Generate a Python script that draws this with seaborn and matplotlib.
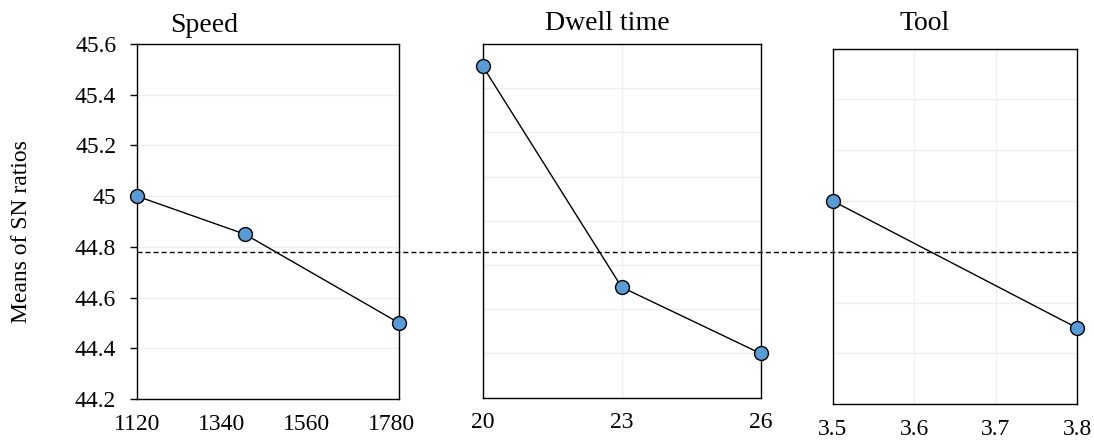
import numpy as np
import matplotlib
matplotlib.use("Agg")
import matplotlib.pyplot as plt
import matplotlib.transforms as mtransforms
from matplotlib.lines import Line2D
from matplotlib.ticker import FuncFormatter
import seaborn as sns

# main effects of SN ratios, one small array per factor
speed_levels = [1120, 1400, 1800]
speed_sn = [45.00, 44.85, 44.50]
speed_ticks = [1120, 1340, 1560, 1780]

dwell_levels = [20, 23, 26]
dwell_sn = [45.50, 44.50, 44.20]
dwell_ticks = [20, 23, 26]

tool_levels = [3.5, 3.8]
tool_sn = [45.00, 44.50]
tool_ticks = [3.5, 3.6, 3.7, 3.8]

grand_mean = 44.78
y_ticks = np.round(np.arange(44.2, 45.61, 0.2), 1)
dwell_y_ticks = np.round(np.arange(44.0, 45.61, 0.2), 1)

sns.set_style("white")
plt.rcParams["font.family"] = ["Liberation Serif", "DejaVu Serif"]
plt.rcParams["text.color"] = "black"
plt.rcParams["xtick.color"] = "black"
plt.rcParams["ytick.color"] = "black"
plt.rcParams["axes.labelcolor"] = "black"

fig = plt.figure(figsize=(10.94, 4.45), dpi=100)

ax1 = fig.add_axes([0.1252, 0.1034, 0.2395, 0.7977])
ax2 = fig.add_axes([0.4412, 0.1063, 0.2541, 0.7948])
ax3 = fig.add_axes([0.7614, 0.0915, 0.2234, 0.7991])

marker_kw = dict(color="black", linewidth=1, marker="o", markersize=10,
                 markerfacecolor="#5B9BD5", markeredgecolor="black",
                 markeredgewidth=1, clip_on=False, zorder=5)

panels = [
    (ax1, speed_levels, speed_sn, speed_ticks, y_ticks, "{:g}"),
    (ax2, dwell_levels, dwell_sn, dwell_ticks, dwell_y_ticks, "{:g}"),
    (ax3, tool_levels, tool_sn, tool_ticks, y_ticks, "{:.1f}"),
]

for ax, xs, ys, xt, yt, fmt in panels:
    sns.lineplot(x=xs, y=ys, ax=ax, **marker_kw)
    ax.set_xlim(xs[0], xs[-1])
    ax.set_ylim(yt[0], yt[-1])
    ax.set_xticks(xt)
    ax.set_yticks(yt)
    ax.xaxis.set_major_formatter(FuncFormatter(lambda v, p, f=fmt: f.format(round(v, 2))))
    ax.grid(True, axis="y", color="#EFEFEF", linewidth=1)
    for s in ax.spines.values():
        s.set_color("black")
        s.set_linewidth(1)
    ax.tick_params(axis="x", direction="out", length=4.5, width=1, color="black",
                   pad=6, labelsize=17, labelcolor="black")
    ax.set_axisbelow(True)

# vertical grid only on the last two panels
ax2.grid(True, axis="x", color="#EFEFEF", linewidth=1)
ax3.grid(True, axis="x", color="#EFEFEF", linewidth=1)

ax1.yaxis.set_major_formatter(FuncFormatter(lambda v, p: f"{round(v, 1):g}"))
ax1.tick_params(axis="y", direction="out", length=5, width=1, color="black",
                pad=10, labelsize=17, labelcolor="black", left=True)
for ax in (ax2, ax3):
    ax.tick_params(axis="y", left=False, labelleft=False)

# dashed grand-mean line across all panels
trans = mtransforms.blended_transform_factory(fig.transFigure, ax1.transData)
fig.add_artist(Line2D([0.1252, 0.9848], [grand_mean, grand_mean], transform=trans,
                      color="black", linewidth=1, linestyle=(0, (3.6, 2.2)), zorder=6))

fig.text(0.187, 0.9288, "Speed", ha="center", va="baseline", fontsize=20, color="black")
fig.text(0.555, 0.9337, "Dwell time", ha="center", va="baseline", fontsize=20, color="black")
fig.text(0.845, 0.9337, "Tool", ha="center", va="baseline", fontsize=20, color="black")
fig.text(0.020, 0.479, "Means of SN ratios", rotation=90, ha="center", va="center",
         fontsize=17, color="black")

fig.savefig("out.png", dpi=100)
